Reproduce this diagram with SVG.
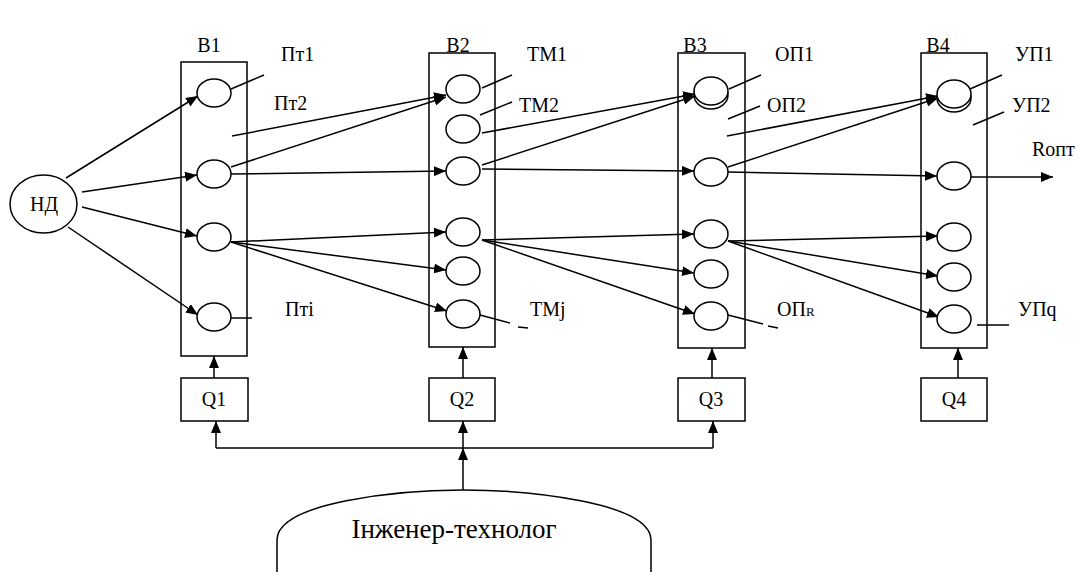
<svg xmlns="http://www.w3.org/2000/svg" width="1078" height="572" viewBox="0 0 1078 572">
<defs>
<marker id="ah" markerUnits="userSpaceOnUse" markerWidth="12" markerHeight="10" refX="12" refY="5" orient="auto">
<path d="M0,0 L12,5 L0,10 z" fill="#000"/>
</marker>
<style>
.box{fill:none;stroke:#000;stroke-width:1.5}
.el{fill:#fff;stroke:#000;stroke-width:1.5}
.ln{fill:none;stroke:#000;stroke-width:1.5}
.ar{fill:none;stroke:#000;stroke-width:1.5;marker-end:url(#ah)}
text{font-family:"Liberation Serif","Times New Roman","DejaVu Serif",serif;font-size:20px;fill:#000}
.c{text-anchor:middle}
.big{font-size:27px}
.sub{font-size:13px}
</style>
</defs>
<rect width="1078" height="572" fill="#fff"/>

<g id="connectors">
<line class="ar" x1="66" y1="178" x2="198" y2="96"/>
<line class="ar" x1="82" y1="192" x2="197" y2="175"/>
<line class="ar" x1="82" y1="207" x2="197" y2="236"/>
<line class="ar" x1="68" y1="227" x2="198" y2="315"/>

<line class="ar" x1="232" y1="136" x2="446" y2="95"/>
<line class="ar" x1="231" y1="167" x2="446" y2="97"/>
<line class="ar" x1="231" y1="174" x2="446" y2="171"/>
<line class="ar" x1="231" y1="242" x2="446" y2="232"/>
<line class="ar" x1="231" y1="242" x2="446" y2="270"/>
<line class="ar" x1="231" y1="242" x2="447" y2="311"/>

<line class="ar" x1="482" y1="133" x2="695" y2="94"/>
<line class="ar" x1="482" y1="165" x2="695" y2="96"/>
<line class="ar" x1="482" y1="169" x2="694" y2="171"/>
<line class="ar" x1="482" y1="240" x2="694" y2="234"/>
<line class="ar" x1="482" y1="240" x2="694" y2="273"/>
<line class="ar" x1="482" y1="240" x2="695" y2="314"/>

<line class="ar" x1="727" y1="136" x2="938" y2="96"/>
<line class="ar" x1="728" y1="167" x2="938" y2="98"/>
<line class="ar" x1="728" y1="172" x2="937" y2="176"/>
<line class="ar" x1="728" y1="241" x2="938" y2="236"/>
<line class="ar" x1="728" y1="241" x2="938" y2="276"/>
<line class="ar" x1="728" y1="241" x2="939" y2="317"/>

<line class="ar" x1="971" y1="177" x2="1053" y2="177"/>

<line class="ar" x1="214" y1="378" x2="214" y2="356"/>
<line class="ar" x1="463" y1="378" x2="463" y2="347"/>
<line class="ar" x1="712" y1="378" x2="712" y2="348"/>
<line class="ar" x1="958" y1="378" x2="958" y2="348"/>

<line class="ln" x1="216" y1="448" x2="713" y2="448"/>
<line class="ar" x1="216" y1="448" x2="216" y2="421"/>
<line class="ar" x1="463" y1="448" x2="463" y2="421"/>
<line class="ar" x1="713" y1="448" x2="713" y2="421"/>
<line class="ar" x1="463" y1="490" x2="463" y2="448"/>

<line class="ln" x1="231" y1="89" x2="264" y2="75"/>
<line class="ln" x1="231" y1="318" x2="252" y2="318"/>
<line class="ln" x1="482" y1="88" x2="512" y2="75"/>
<line class="ln" x1="480" y1="115" x2="512" y2="102"/>
<line class="ln" x1="480" y1="315" x2="510" y2="323"/>
<line class="ln" x1="518" y1="327" x2="528" y2="328"/>
<line class="ln" x1="729" y1="89" x2="761" y2="75"/>
<line class="ln" x1="728" y1="119" x2="760" y2="106"/>
<line class="ln" x1="728" y1="315" x2="763" y2="324"/>
<line class="ln" x1="768" y1="326" x2="778" y2="328"/>
<line class="ln" x1="970" y1="89" x2="1002" y2="75"/>
<line class="ln" x1="973" y1="125" x2="1004" y2="112"/>
<line class="ln" x1="977" y1="325" x2="1009" y2="325"/>
</g>

<g id="ND">
<ellipse class="el" cx="43.5" cy="204" rx="33.5" ry="29"/>
<text class="c" x="44" y="211">НД</text>
</g>

<g id="B1">
<rect class="box" x="181" y="62" width="66" height="294"/>
<ellipse class="el" cx="214" cy="93" rx="17" ry="14"/>
<ellipse class="el" cx="214" cy="174" rx="17" ry="14"/>
<ellipse class="el" cx="214" cy="237" rx="17" ry="14"/>
<ellipse class="el" cx="214" cy="317" rx="17" ry="14"/>
<text class="c" x="209" y="52">B1</text>
<text x="281" y="61">Пт1</text>
<text x="274" y="110">Пт2</text>
<text x="285" y="316">Пті</text>
</g>

<g id="B2">
<rect class="box" x="429" y="53" width="66" height="294"/>
<ellipse class="el" cx="463" cy="89" rx="17" ry="14"/>
<ellipse class="el" cx="463" cy="129" rx="17" ry="14"/>
<ellipse class="el" cx="463" cy="171" rx="17" ry="14"/>
<ellipse class="el" cx="463" cy="232" rx="17" ry="14"/>
<ellipse class="el" cx="463" cy="271" rx="17" ry="14"/>
<ellipse class="el" cx="463" cy="314" rx="17" ry="14"/>
<text class="c" x="458" y="52">B2</text>
<text x="527" y="61">TM1</text>
<text x="519" y="112">TM2</text>
<text x="530" y="316">TMj</text>
</g>

<g id="B3">
<rect class="box" x="678" y="53" width="67" height="295"/>
<ellipse class="el" cx="711" cy="95" rx="17" ry="14"/>
<ellipse class="el" cx="711" cy="91" rx="17" ry="14"/>
<ellipse class="el" cx="711" cy="172" rx="17" ry="14"/>
<ellipse class="el" cx="711" cy="234" rx="17" ry="14"/>
<ellipse class="el" cx="711" cy="274" rx="17" ry="14"/>
<ellipse class="el" cx="711" cy="316" rx="17" ry="14"/>
<text class="c" x="695" y="52">B3</text>
<text x="775" y="61">ОП1</text>
<text x="767" y="112">ОП2</text>
<text x="777" y="316">ОП<tspan class="sub">R</tspan></text>
</g>

<g id="B4">
<rect class="box" x="921" y="53" width="66" height="295"/>
<ellipse class="el" cx="954" cy="98" rx="17" ry="14"/>
<ellipse class="el" cx="954" cy="94" rx="17" ry="14"/>
<ellipse class="el" cx="954" cy="176" rx="17" ry="14"/>
<ellipse class="el" cx="954" cy="237" rx="17" ry="14"/>
<ellipse class="el" cx="954" cy="277" rx="17" ry="14"/>
<ellipse class="el" cx="954" cy="319" rx="17" ry="14"/>
<text class="c" x="938" y="52">B4</text>
<text x="1015" y="61">УП1</text>
<text x="1012" y="112">УП2</text>
<text x="1018" y="316">УПq</text>
<text x="1032" y="156">Rопт</text>
</g>

<g id="Q1">
<rect class="box" x="181" y="378" width="67" height="43"/>
<text class="c" x="214" y="406">Q1</text>
</g>
<g id="Q2">
<rect class="box" x="429" y="378" width="66" height="43"/>
<text class="c" x="462" y="406">Q2</text>
</g>
<g id="Q3">
<rect class="box" x="678" y="378" width="67" height="43"/>
<text class="c" x="711" y="406">Q3</text>
</g>
<g id="Q4">
<rect class="box" x="921" y="378" width="66" height="43"/>
<text class="c" x="954" y="406">Q4</text>
</g>

<g id="engineer">
<path class="ln" d="M277,573 V540 C277,502 400,490 463,490 C526,490 651,502 651,540 V573"/>
<text class="c big" x="454" y="538">Інженер-технолог</text>
</g>
</svg>
